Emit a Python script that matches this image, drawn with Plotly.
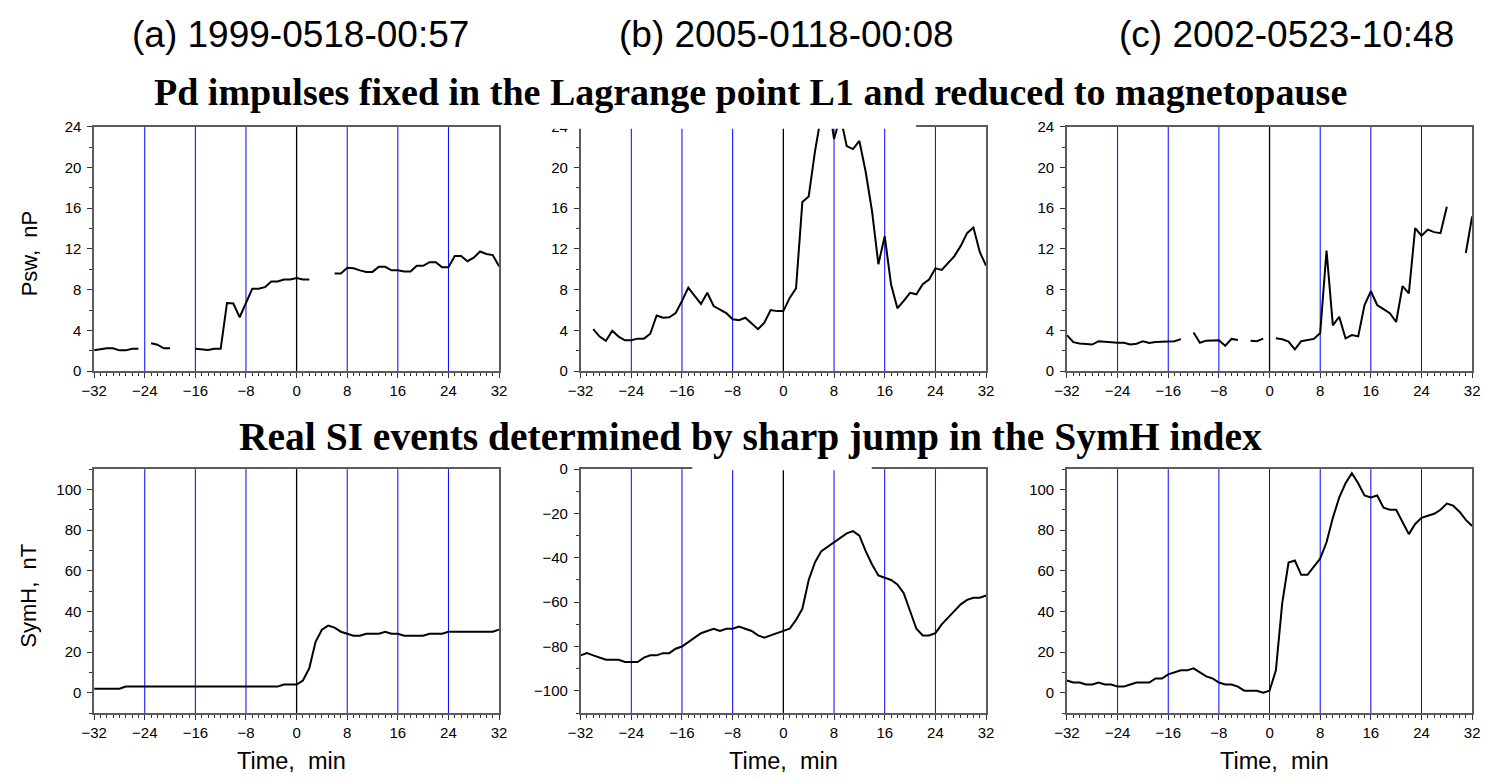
import plotly.graph_objects as go

# Time axis, minutes relative to the event onset
minutes = list(range(-32, 33))

# Solar-wind dynamic pressure (nP); None marks missing samples
psw_a = [2.05, 2.15, 2.25, 2.25, 2.05, 2.05, 2.2, 2.2,
         None,
         2.75, 2.6, 2.25, 2.25,
         None, None, None,
         2.2, 2.15, 2.08, 2.2, 2.2, 6.7, 6.65, 5.3, 6.75, 8.1, 8.1, 8.25,
         8.8, 8.8, 9.0, 9.0, 9.15, 9.0, 9.0,
         None, None, None,
         9.6, 9.6, 10.15, 10.1, 9.9, 9.75, 9.75, 10.25, 10.25, 9.9, 9.9,
         9.8, 9.8, 10.35, 10.35, 10.7, 10.7, 10.2, 10.2, 11.3, 11.3, 10.8,
         11.15, 11.75, 11.5, 11.4, 10.3]

psw_b = [None, None,
         4.13, 3.4, 2.98, 3.97, 3.4, 3.04, 3.04, 3.2, 3.2, 3.68,
         5.47, 5.25, 5.3, 5.7, 6.9, 8.2, 7.4, 6.6, 7.7, 6.4,
         6.05, 5.7, 5.1, 5.0, 5.25, 4.67, 4.13, 4.77, 6.0, 5.9,
         5.9, 7.2, 8.13, 16.6, 17.15, 21.6, 25.2, 27.0, 22.8, 25.0,
         22.1, 21.8, 22.6, 19.55, 15.7, 10.5, 13.25, 8.5, 6.18, 6.9,
         7.7, 7.55, 8.55, 9.0, 10.1, 9.95, 10.65, 11.3, 12.3, 13.55,
         14.1, 11.7, 10.35]

psw_c = [3.55, 2.85, 2.72, 2.65, 2.62, 2.95, 2.9, 2.78, 2.8, 2.8,
         2.62, 2.7, 2.95, 2.78, 2.88, 2.9, 2.95, 2.95, 3.15,
         None,
         3.8, 2.8, 3.0, 3.04, 3.04, 2.5, 3.17, 3.07,
         None,
         2.98, 2.95, 3.2,
         None,
         3.23, 3.14, 2.9, 2.14, 2.95, 3.04, 3.17, 3.75, 11.85, 4.5,
         5.35, 3.23, 3.55, 3.42, 6.5, 7.85, 6.5, 6.1, 5.7, 4.83,
         8.35, 7.65, 14.05, 13.3, 13.9, 13.65, 13.55, 16.15,
         None, None,
         11.6, 15.2]

# SymH index (nT)
symh_a = [2, 2, 2, 2, 2,
          3, 3, 3, 3, 3, 3, 3, 3, 3, 3, 3, 3, 3, 3, 3, 3, 3, 3, 3, 3, 3, 3, 3, 3, 3,
          4, 4, 4,
          6, 12, 25, 31, 33, 32, 30, 29, 28, 28,
          29, 29, 29, 30, 29, 29, 28, 28, 28, 28,
          29, 29, 29, 30, 30, 30, 30, 30, 30, 30,
          30, 31]

symh_b = [-84, -83, -84, -85, -86, -86, -86, -87, -87, -87,
          -85, -84, -84, -83, -83, -81, -80, -78, -76, -74,
          -73, -72, -73, -72, -72, -71, -72, -73, -75, -76,
          -75, -74, -73, -72, -68, -63, -50, -42, -37, -35,
          -33, -31, -29, -28, -30, -37, -43, -48, -49, -50,
          -52, -56, -64, -72, -75, -75, -74, -70, -67, -64,
          -61, -59, -58, -58, -57]

symh_c = [6, 5, 5, 4, 4, 5, 4, 4, 3, 3,
          4, 5, 5, 5, 7, 7, 9, 10, 11, 11,
          12, 10, 8, 7, 5, 4, 4, 3, 1, 1,
          1, 0, 1,
          11, 44, 64, 65, 58, 58, 62, 66, 74, 86,
          96, 103, 108, 103, 97, 96, 97, 91, 90, 90,
          84, 78, 83, 86, 87, 88, 90, 93, 92, 89,
          85, 82]

event_titles = ["(a) 1999-0518-00:57", "(b) 2005-0118-00:08", "(c) 2002-0523-10:48"]
row_titles = ["Pd impulses fixed in the Lagrange point L1 and reduced to magnetopause",
              "Real SI events determined by sharp jump in the SymH index"]
marker_times = [-24, -16, -8, 8, 16, 24]

W, H = 1491, 781
SANS = "Arial, Liberation Sans, Helvetica, sans-serif"
SERIF = "Times New Roman, Liberation Serif, serif"


def fx(p):
    return p / W


def fy(p):
    return 1 - p / H


col_px = [(82.3, 493.0), (575.7, 987.0), (1069.0, 1480.0)]
row_px = [(120.3, 370.3), (470.3, 719.7)]

panels = [
    # (series, row, col, y range, y dtick, y minor, black zero line)
    (psw_a, 0, 0, [0, 24], 4, 2, True),
    (psw_b, 0, 1, [0, 24], 4, 2, True),
    (psw_c, 0, 2, [0, 24], 4, 2, True),
    (symh_a, 1, 0, [-10, 110], 20, 10, True),
    (symh_b, 1, 1, [-110, 0], 20, 10, True),
    (symh_c, 1, 2, [-10, 110], 20, 10, False),
]

fig = go.Figure()
shapes = []
layout_axes = {}

for k, (vals, r, c, yr, ydt, ymin, black0) in enumerate(panels, start=1):
    xa = "x" if k == 1 else f"x{k}"
    ya = "y" if k == 1 else f"y{k}"
    fig.add_trace(go.Scatter(
        x=minutes, y=vals, mode="lines", connectgaps=False,
        line=dict(color="black", width=2),
        xaxis=xa, yaxis=ya, showlegend=False, hoverinfo="skip"))

    axis_common = dict(
        showline=True, linecolor="#5c5c5c", linewidth=1.5, mirror=True,
        showgrid=False, zeroline=False,
        ticks="outside", ticklen=5, tickwidth=1, tickcolor="#333333",
        tickfont=dict(family=SANS, size=15, color="black"),
    )
    layout_axes[f"xaxis{k}"] = dict(
        axis_common,
        domain=[fx(col_px[c][0]), fx(col_px[c][1])],
        anchor=ya, range=[-32, 32], tick0=0, dtick=8,
        minor=dict(dtick=1, tick0=0, ticks="outside", ticklen=3,
                   tickwidth=1, tickcolor="#333333", showgrid=False),
    )
    layout_axes[f"yaxis{k}"] = dict(
        axis_common,
        domain=[fy(row_px[r][1]), fy(row_px[r][0])],
        anchor=xa, range=yr, tick0=0, dtick=ydt, ticklabelstandoff=3,
        minor=dict(dtick=ymin, tick0=0, ticks="outside", ticklen=3,
                   tickwidth=1, tickcolor="#333333", showgrid=False),
    )

    for t in marker_times + ([] if black0 else [0]):
        shapes.append(dict(type="line", xref=xa, yref=f"{ya} domain",
                           x0=t, x1=t, y0=0, y1=1, layer="below",
                           line=dict(color="#0000ff", width=1)))
    if black0:
        shapes.append(dict(type="line", xref=xa, yref=f"{ya} domain",
                           x0=0, x1=0, y0=0, y1=1, layer="below",
                           line=dict(color="black", width=1.3)))

# white title backgrounds overlapping the top edge of the middle panels
shapes.append(dict(type="rect", xref="paper", yref="paper",
                   x0=fx(540), x1=fx(916), y0=fy(122.5), y1=fy(104),
                   fillcolor="white", line=dict(width=0), layer="above"))
shapes.append(dict(type="rect", xref="paper", yref="paper",
                   x0=fx(689), x1=fx(871), y0=fy(471.5), y1=fy(458),
                   fillcolor="white", line=dict(width=0), layer="above"))

annotations = []
for txt, cx in zip(event_titles, [292, 785, 1292]):
    annotations.append(dict(text=txt, x=fx(cx), y=fy(26), xref="paper", yref="paper",
                            xanchor="center", yanchor="middle", showarrow=False,
                            font=dict(family=SANS, size=37, color="black")))
for txt, cy, sz in zip(row_titles, [85, 438], [38, 39.5]):
    annotations.append(dict(text=f"<b>{txt}</b>", x=fx(748), y=fy(cy),
                            xref="paper", yref="paper",
                            xanchor="center", yanchor="middle", showarrow=False,
                            font=dict(family=SERIF, size=sz, color="black")))
annotations.append(dict(text="Psw,\u00a0\u00a0nP", x=fx(17), y=fy(250), textangle=-90,
                        xref="paper", yref="paper", xanchor="center", yanchor="middle",
                        showarrow=False, font=dict(family=SANS, size=22, color="black")))
annotations.append(dict(text="SymH,\u00a0\u00a0nT", x=fx(16), y=fy(600), textangle=-90,
                        xref="paper", yref="paper", xanchor="center", yanchor="middle",
                        showarrow=False, font=dict(family=SANS, size=22, color="black")))
for cx in [282, 781, 1280]:
    annotations.append(dict(text="Time,\u00a0\u00a0min", x=fx(cx), y=fy(769),
                            xref="paper", yref="paper", xanchor="center", yanchor="middle",
                            showarrow=False, font=dict(family=SANS, size=23.5, color="black")))

fig.update_layout(
    width=W, height=H, autosize=False,
    margin=dict(l=0, r=0, t=0, b=0),
    paper_bgcolor="white", plot_bgcolor="white",
    shapes=shapes, annotations=annotations,
    **layout_axes,
)

fig.write_html("out.html")
